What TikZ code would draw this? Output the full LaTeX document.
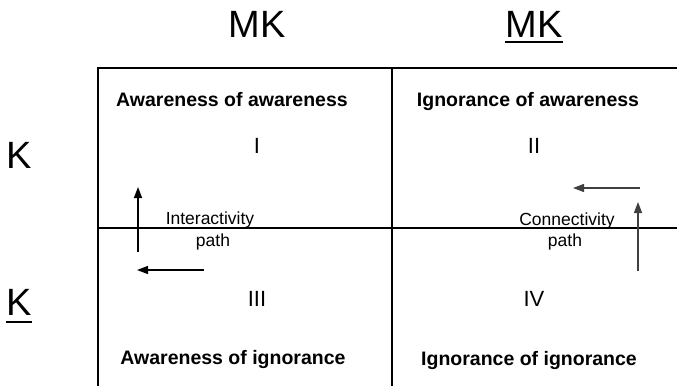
\documentclass[tikz,border=0pt]{standalone}
\usepackage{fontspec}
\setmainfont{Liberation Sans}
\usetikzlibrary{arrows.meta}
\begin{document}
\begin{tikzpicture}[x=1pt,y=-1pt,
  grid/.style={line width=1.1pt},
  head/.style={font=\fontsize{38}{40}\selectfont, inner sep=0pt, anchor=base},
  title/.style={font=\fontsize{19.5}{22}\selectfont\bfseries, inner sep=0pt, anchor=base},
  numeral/.style={font=\fontsize{22}{24}\selectfont, inner sep=0pt, anchor=base},
  pathlabel/.style={font=\fontsize{17.5}{20}\selectfont, inner sep=0pt, anchor=base},
  flow/.style={line width=1.3pt, -{Triangle[length=11pt,width=8pt]}},
  uline/.style={line width=2pt}]
\useasboundingbox (0,0) rectangle (677,386);

% quadrant grid
\draw[grid] (98,386) -- (98,68) -- (677,68);
\draw[grid] (392,68) -- (392,386);
\draw[grid] (98,228) -- (677,228);

% column and row headings
\node[head] (mk1) at (257,37) {MK};
\node[head] (mk2) at (534,37) {MK};
\draw[uline] ([yshift=-4.5pt]mk2.base west) -- ([yshift=-4.5pt]mk2.base east);
\node[head] (k1) at (19,168) {K};
\node[head] (k2) at (19,315) {K};
\draw[uline] ([yshift=-7pt]k2.base west) -- ([yshift=-7pt]k2.base east);

% quadrant titles
\node[title] (t1) at (232,106) {Awareness of awareness};
\node[title] (t2) at (528,106) {Ignorance of awareness};
\node[title] (t3) at (233,364) {Awareness of ignorance};
\node[title] (t4) at (529,365) {Ignorance of ignorance};

% quadrant numbers
\node[numeral] (n1) at (257,153) {I};
\node[numeral] (n2) at (534,153) {II};
\node[numeral] (n3) at (257,306) {III};
\node[numeral] (n4) at (534,306) {IV};

% path labels
\node[pathlabel] (ia) at (210,224) {Interactivity};
\node[pathlabel] (ib) at (213,246) {path};
\node[pathlabel] (ca) at (567,225) {Connectivity};
\node[pathlabel] (cb) at (565,246) {path};

% interactivity path arrows
\coordinate (iu0) at (138,252);
\coordinate (iu1) at (138,187);
\coordinate (il0) at (204,270);
\coordinate (il1) at (137,270);
\draw[flow] (iu0) -- (iu1);
\draw[flow] (il0) -- (il1);

% connectivity path arrows
\coordinate (cl0) at (640,188);
\coordinate (cl1) at (573,188);
\coordinate (cu0) at (638,271);
\coordinate (cu1) at (638,202);
\draw[flow, draw=black!75] (cl0) -- (cl1);
\draw[flow, draw=black!75] (cu0) -- (cu1);
\end{tikzpicture}
\end{document}
